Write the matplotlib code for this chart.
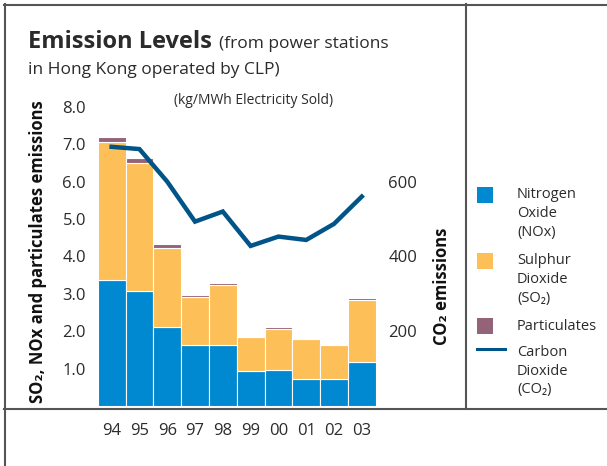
import matplotlib
matplotlib.use('Agg')
import matplotlib.pyplot as plt
from matplotlib.patches import Rectangle
from matplotlib.lines import Line2D
import numpy as np

plt.rcParams['font.family'] = ['Open Sans', 'DejaVu Sans']

# data (kg/MWh electricity sold)
years = ['94', '95', '96', '97', '98', '99', '00', '01', '02', '03']
nox = [3.37, 3.07, 2.11, 1.63, 1.63, 0.94, 0.97, 0.72, 0.72, 1.18]
so2 = [3.70, 3.44, 2.12, 1.28, 1.61, 0.90, 1.09, 1.07, 0.91, 1.66]
particulates = [0.13, 0.11, 0.10, 0.06, 0.05, 0.03, 0.05, 0.03, 0.03, 0.04]
co2 = [693, 687, 600, 493, 520, 428, 453, 444, 487, 560]

c_nox = '#0088d1'
c_so2 = '#fdbf57'
c_part = '#956378'
c_co2 = '#005487'
c_text = '#2b2b2b'
c_frame = '#555555'

W, H = 607, 466
fig = plt.figure(figsize=(W / 100, H / 100), dpi=100)

def fx(px):
	return px / W

def fy(py):
	return 1 - py / H

# axes placed in pixel terms: x -0.5..9.5 over bars, y 0..8 over tick scale
ax_l, ax_r = 97.7, 375.7
ax_b, ax_t = 406.0, 406.0 - 8 * 37.4
ax = fig.add_axes([fx(ax_l), fy(ax_b), fx(ax_r - ax_l), (ax_b - ax_t) / H])
ax.patch.set_alpha(0)

x = np.arange(len(years))
nox_a = np.array(nox)
so2_a = np.array(so2)
ax.bar(x, nox, width=1.0, color=c_nox, edgecolor='white', linewidth=0.8)
ax.bar(x, so2, width=1.0, bottom=nox_a, color=c_so2, edgecolor='white', linewidth=0.8)
ax.bar(x, particulates, width=1.0, bottom=nox_a + so2_a, color=c_part, edgecolor='white', linewidth=0.8)

ax.set_xlim(-0.5, 9.5)
ax.set_ylim(0, 8.0)
ax.set_yticks([1, 2, 3, 4, 5, 6, 7, 8])
ax.set_yticklabels(['%.1f' % v for v in [1, 2, 3, 4, 5, 6, 7, 8]])
ax.set_xticks(x)
ax.set_xticklabels(years)
ax.tick_params(axis='y', length=0, pad=8.4, labelsize=12, labelcolor=c_text)
ax.tick_params(axis='x', length=0, pad=12, labelsize=12, labelcolor=c_text)
for s in ax.spines.values():
	s.set_visible(False)

ax2 = ax.twinx()
ax2.plot(x, co2, color=c_co2, linewidth=3.2, solid_joinstyle='miter')
ax2.set_ylim(0, 800)
ax2.set_yticks([200, 400, 600])
ax2.tick_params(axis='y', length=0, pad=9, labelsize=12, labelcolor=c_text)
for s in ax2.spines.values():
	s.set_visible(False)

# frame lines
for xs, ys in [((4, 607), (4.5, 4.5)), ((4.5, 4.5), (4, 466)),
			   ((466, 466), (4, 408.5)), ((4, 607), (408.5, 408.5))]:
	fig.add_artist(Line2D([fx(xs[0]), fx(xs[1])], [fy(ys[0]), fy(ys[1])],
						  color=c_frame, linewidth=1.5))

# titles
fig.text(fx(28), fy(48.5), 'Emission Levels', fontsize=17, fontweight='bold',
		 color=c_text, va='baseline')
fig.text(fx(219), fy(48.5), '(from power stations', fontsize=12.5,
		 color=c_text, va='baseline')
fig.text(fx(28), fy(74.5), 'in Hong Kong operated by CLP)', fontsize=12.5,
		 color=c_text, va='baseline')
fig.text(fx(254), fy(100), '(kg/MWh Electricity Sold)', fontsize=10,
		 color=c_text, ha='center', va='center')

fig.text(fx(38.5), fy(252), 'SO\u2082, NOx and particulates emissions', fontsize=12,
		 fontweight='bold', color='#111111', rotation=90, ha='center', va='center')
fig.text(fx(441.7), fy(286), 'CO\u2082 emissions', fontsize=12,
		 fontweight='bold', color='#111111', rotation=90, ha='center', va='center')

# legend
leg_items = [(c_nox, 187, ['Nitrogen', 'Oxide', '(NOx)']),
			 (c_so2, 253, ['Sulphur', 'Dioxide', '(SO\u2082)']),
			 (c_part, 318, ['Particulates'])]
for col, top, lines in leg_items:
	fig.add_artist(Rectangle((fx(477), fy(top + 16)), fx(16), 16 / H,
							 facecolor=col, edgecolor='none'))
	for i, t in enumerate(lines):
		fig.text(fx(517), fy(top + 8 + i * 18.6), t, fontsize=10.5,
				 color=c_text, va='center')
fig.add_artist(Line2D([fx(477), fx(505)], [fy(349), fy(349)], color=c_co2, linewidth=2.2))
for i, t in enumerate(['Carbon', 'Dioxide', '(CO\u2082)']):
	fig.text(fx(517), fy(352.7 + i * 18.6), t, fontsize=10.5, color=c_text, va='center')

fig.savefig('out.png', dpi=100)
